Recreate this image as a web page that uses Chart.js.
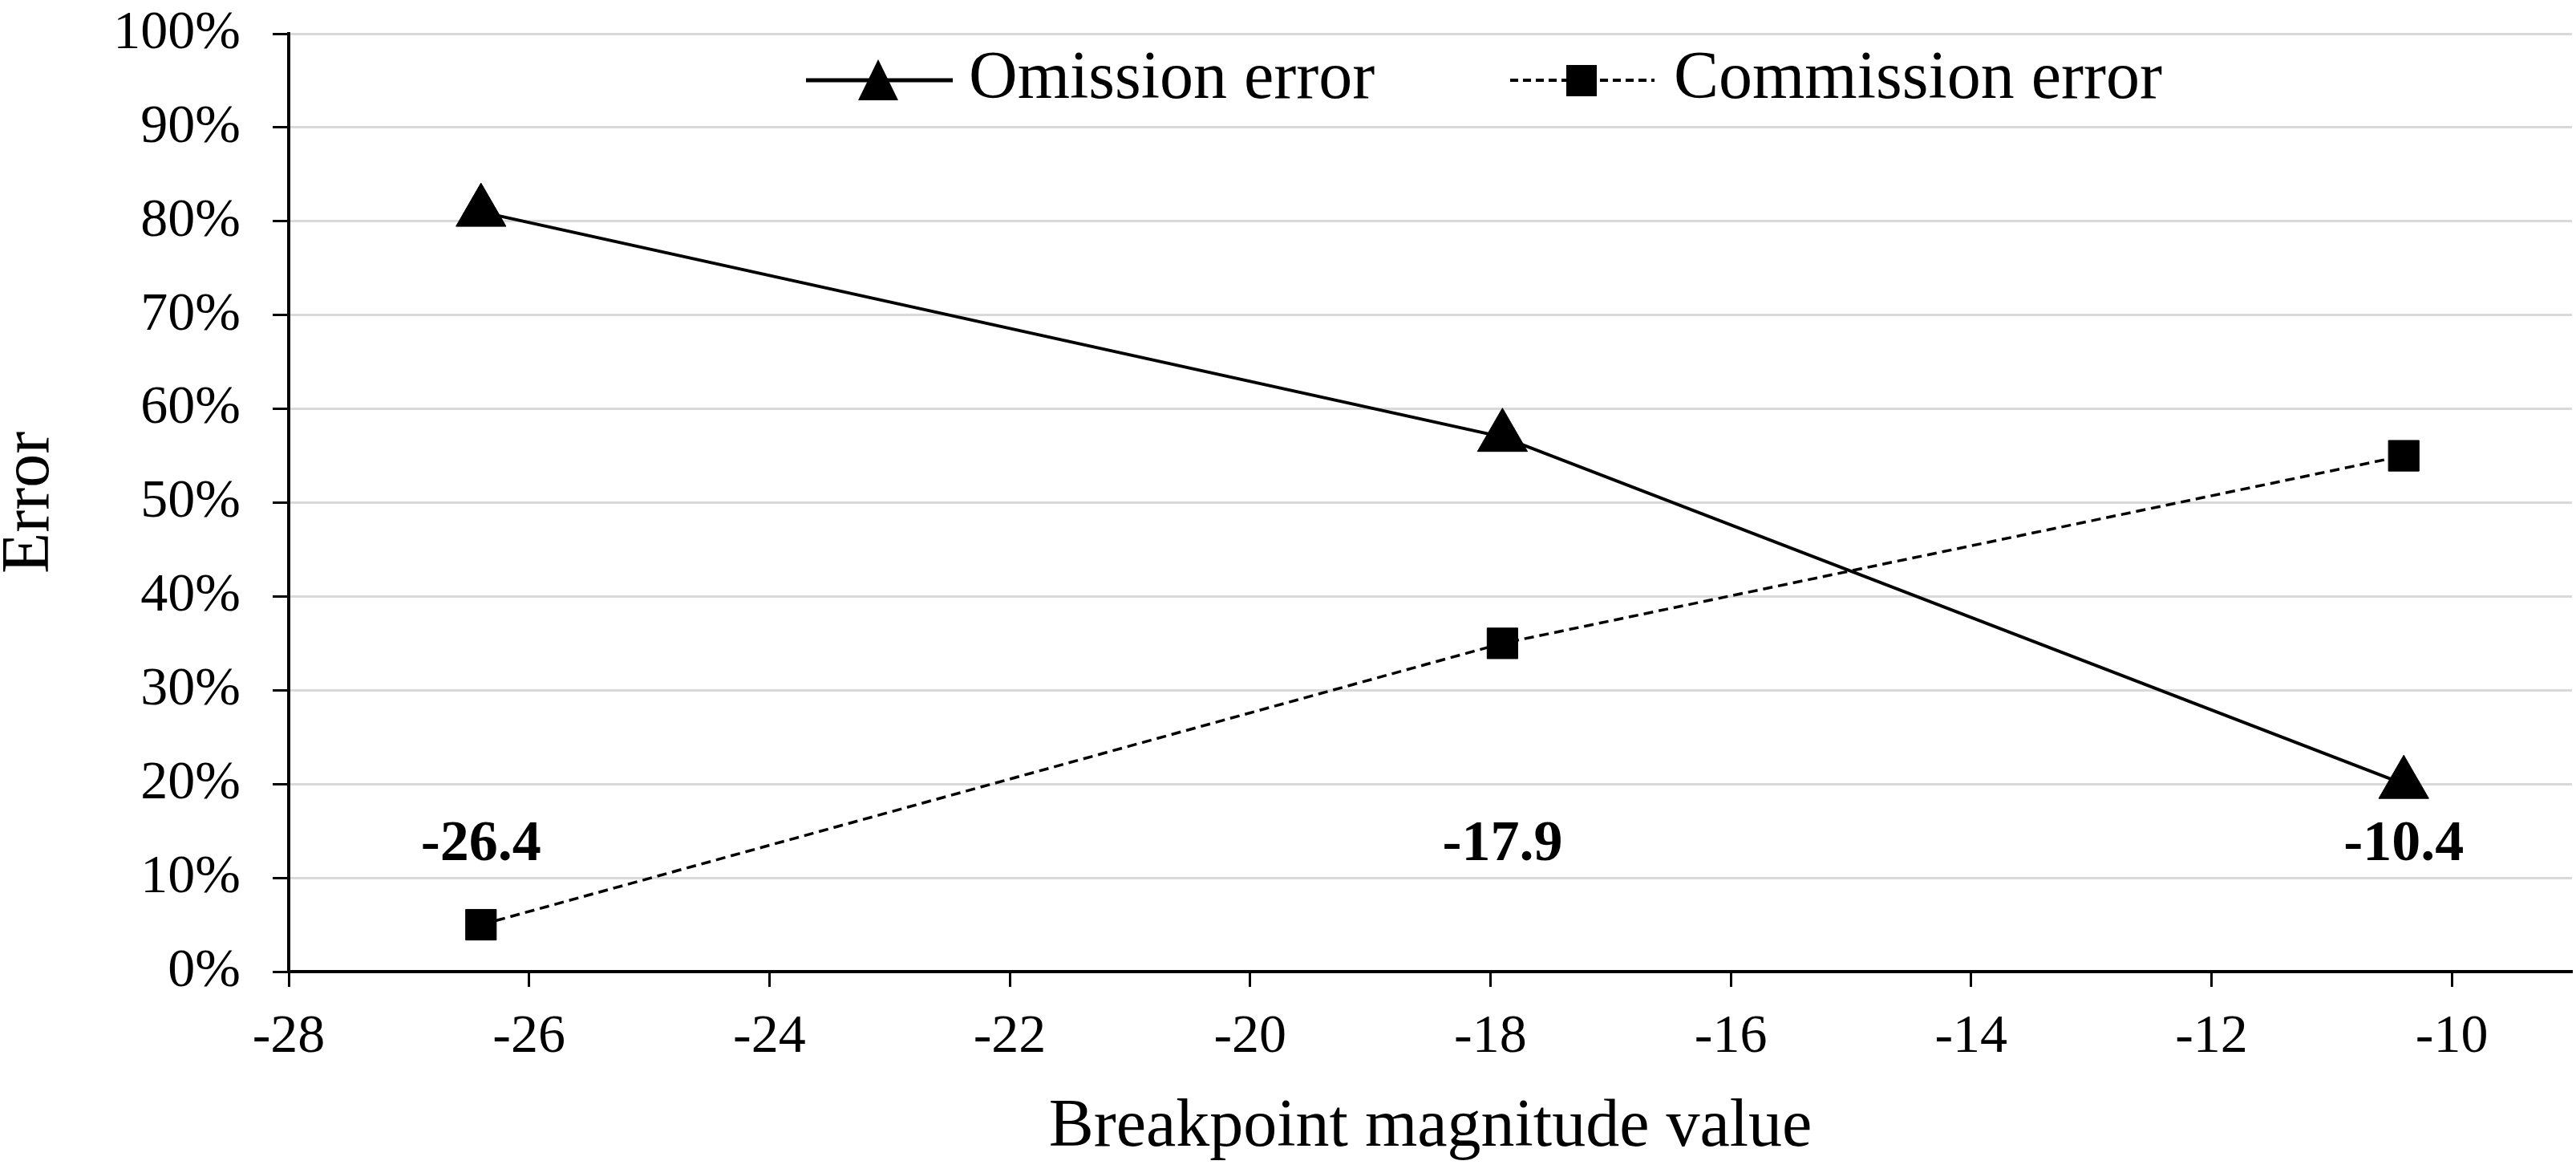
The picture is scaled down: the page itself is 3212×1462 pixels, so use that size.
<!DOCTYPE html>
<html>
<head>
<meta charset="utf-8">
<script src="https://cdn.jsdelivr.net/npm/chart.js@4.4.0/dist/chart.umd.min.js"></script>
<style>
  html, body { margin: 0; padding: 0; background: #fff; }
  canvas { display: block; }
</style>
</head>
<body>
<canvas id="errorChart" width="3212" height="1462" style="width:3212px;height:1462px"></canvas>
<script>
// Chart data
const breakpoints = [-26.4, -17.9, -10.4];
const omissionError = [81, 57, 20];
const commissionError = [5, 35, 55];
const xTickValues = [-28, -26, -24, -22, -20, -18, -16, -14, -12, -10];
const pointLabels = ['-26.4', '-17.9', '-10.4'];
const labelLevel = 13.5; // % level where the breakpoint labels sit

const seriesNames = ['Omission error', 'Commission error'];

Chart.defaults.font.family = "'Liberation Serif', 'Times New Roman', serif";
Chart.defaults.color = '#000';

// Breakpoint labels and the legend, drawn after the datasets
const overlayPlugin = {
    id: 'overlay',
    afterDraw(chart) {
        const ctx = chart.ctx;
        const x = chart.scales.x;
        const y = chart.scales.y;
        const area = chart.chartArea;

        ctx.save();
        ctx.fillStyle = '#000';
        ctx.font = "bold 72px 'Liberation Serif'";
        ctx.textAlign = 'center';
        ctx.textBaseline = 'middle';
        breakpoints.forEach((b, i) => {
            ctx.fillText(pointLabels[i], x.getPixelForValue(b), y.getPixelForValue(labelLevel));
        });

        // Legend
        const ly = area.top + 58;
        ctx.strokeStyle = '#000';

        // Omission: solid line + triangle
        ctx.lineWidth = 5;
        ctx.setLineDash([]);
        ctx.beginPath();
        ctx.moveTo(area.left + 645, ly);
        ctx.lineTo(area.left + 828, ly);
        ctx.stroke();
        ctx.beginPath();
        ctx.moveTo(area.left + 735, ly - 26);
        ctx.lineTo(area.left + 760, ly + 25);
        ctx.lineTo(area.left + 710, ly + 25);
        ctx.closePath();
        ctx.fill();

        // Commission: dashed line + square
        ctx.lineWidth = 4;
        ctx.setLineDash([10, 6]);
        ctx.beginPath();
        ctx.moveTo(area.left + 1523, ly);
        ctx.lineTo(area.left + 1703, ly);
        ctx.stroke();
        ctx.setLineDash([]);
        ctx.fillRect(area.left + 1593, ly - 19, 38, 39);

        ctx.font = "84px 'Liberation Serif'";
        ctx.textAlign = 'left';
        ctx.fillText(seriesNames[0], area.left + 848, ly);
        ctx.fillText(seriesNames[1], area.left + 1727, ly);
        ctx.restore();
    }
};

const ctx = document.getElementById('errorChart').getContext('2d');
const errorChart = new Chart(ctx, {
    type: 'line',
    data: {
        datasets: [{
            label: seriesNames[0],
            data: breakpoints.map((b, i) => ({ x: b, y: omissionError[i] })),
            borderColor: '#000',
            backgroundColor: '#000',
            borderWidth: 4,
            pointStyle: 'triangle',
            pointRadius: 36,
            pointBorderWidth: 1,
            tension: 0
        }, {
            label: seriesNames[1],
            data: breakpoints.map((b, i) => ({ x: b, y: commissionError[i] })),
            borderColor: '#000',
            backgroundColor: '#000',
            borderWidth: 3.5,
            borderDash: [12, 7],
            pointStyle: 'rect',
            pointRadius: 27,
            pointBorderWidth: 1,
            tension: 0
        }]
    },
    options: {
        responsive: false,
        animation: false,
        devicePixelRatio: 1,
        layout: {
            autoPadding: false,
            padding: { top: 0, right: 5, bottom: 0, left: 0 }
        },
        plugins: {
            legend: { display: false },
            tooltip: { enabled: false }
        },
        scales: {
            x: {
                type: 'linear',
                min: -28,
                max: -9,
                afterBuildTicks: (scale) => {
                    scale.ticks = xTickValues.map(v => ({ value: v }));
                },
                afterFit: (scale) => {
                    scale.height = 251;
                    scale.paddingLeft = 0;
                    scale.paddingRight = 0;
                },
                grid: {
                    drawOnChartArea: false,
                    drawTicks: true,
                    tickLength: 19,
                    tickColor: '#000',
                    tickWidth: 3
                },
                border: { color: '#000', width: 4 },
                ticks: {
                    padding: 22,
                    maxRotation: 0,
                    font: { size: 68 },
                    color: '#000'
                },
                title: {
                    display: true,
                    text: 'Breakpoint magnitude value',
                    font: { size: 84, lineHeight: 1 },
                    padding: { top: 0, bottom: 14 },
                    color: '#000'
                }
            },
            y: {
                min: 0,
                max: 100,
                afterFit: (scale) => {
                    scale.width = 360;
                    scale.paddingTop = 42;
                    scale.paddingBottom = 0;
                },
                grid: {
                    color: '#d9d9d9',
                    lineWidth: 3,
                    tickColor: '#000',
                    tickWidth: 3,
                    tickLength: 20
                },
                border: { color: '#000', width: 4 },
                ticks: {
                    stepSize: 10,
                    padding: 40,
                    font: { size: 68 },
                    color: '#000',
                    callback: (v) => v + '%'
                },
                title: {
                    display: true,
                    text: 'Error',
                    font: { size: 84, lineHeight: 1 },
                    padding: { top: -4, bottom: 0 },
                    color: '#000'
                }
            }
        }
    },
    plugins: [overlayPlugin]
});
</script>
</body>
</html>
